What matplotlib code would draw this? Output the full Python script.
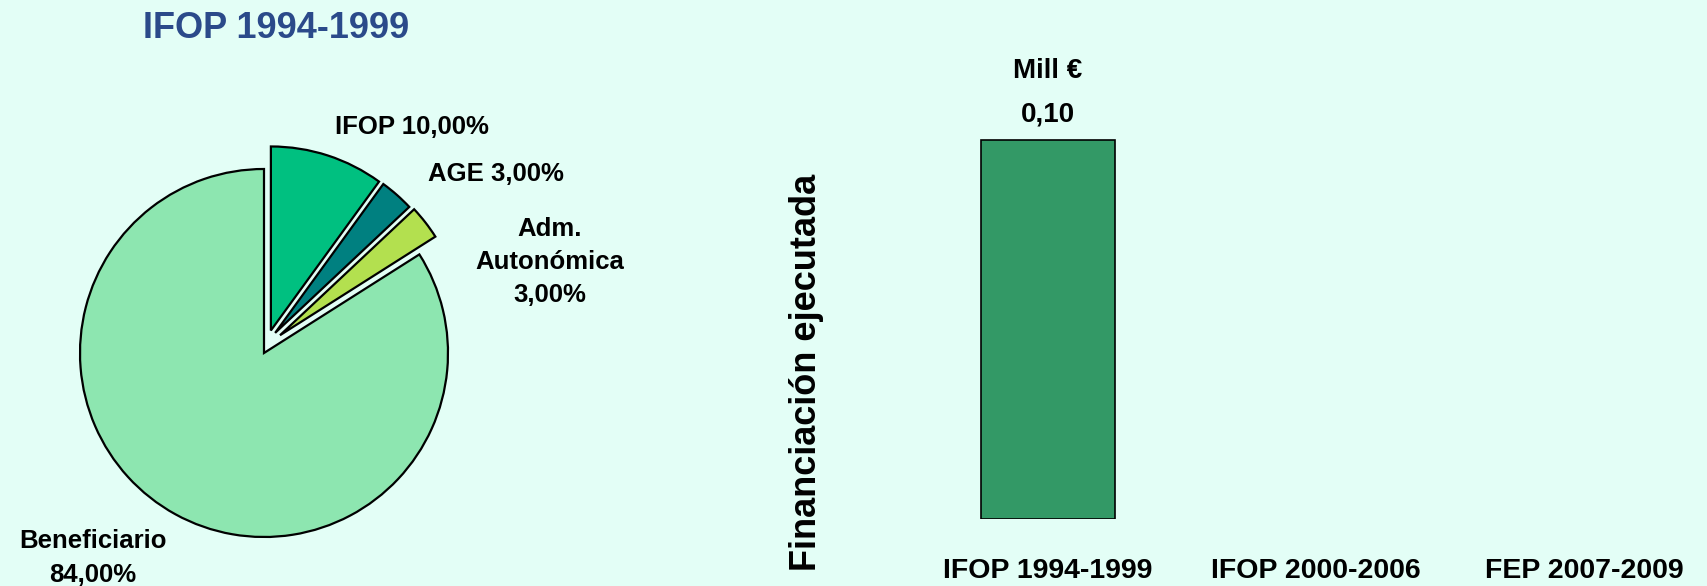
import math
import matplotlib
matplotlib.use("Agg")
import matplotlib.pyplot as plt

# ---- data ----
pie_labels = ["IFOP 10,00%", "AGE 3,00%", "Adm.\nAutonómica\n3,00%", "Beneficiario\n84,00%"]
pie_values = [10.0, 3.0, 3.0, 84.0]
pie_colors = ["#00C080", "#008080", "#B3E04F", "#8DE6B0"]
# explosion (distance in radii, direction in degrees) – styling
explode_dist = [0.128, 0.125, 0.13, 0.0]
explode_dir = [73, 61, 48, 0]

bar_categories = ["IFOP 1994-1999", "IFOP 2000-2006", "FEP 2007-2009"]
bar_values = [0.10, 0.0, 0.0]
bar_value_labels = ["0,10", "", ""]

title = "IFOP 1994-1999"
bar_unit = "Mill €"
bar_ylabel = "Financiación ejecutada"

BG = "#E3FEF6"
W, H = 1707, 586
plt.rcParams["font.family"] = ["Liberation Sans", "DejaVu Sans"]
plt.rcParams["font.weight"] = "bold"

fig = plt.figure(figsize=(W / 100, H / 100), dpi=100)
fig.patch.set_facecolor(BG)

# ---- pie ----
cx, cy, r = 264, 353, 184
span = 1.5
axp = fig.add_axes([(cx - span * r) / W, (H - cy - span * r) / H,
                    2 * span * r / W, 2 * span * r / H])
wedges, _ = axp.pie(pie_values, colors=pie_colors,
                    startangle=90, counterclock=False, radius=1.0,
                    wedgeprops=dict(edgecolor="black", linewidth=1.6))
for w, d, a in zip(wedges, explode_dist, explode_dir):
    if d:
        w.set_center((d * math.cos(math.radians(a)), d * math.sin(math.radians(a))))
axp.set_xlim(-span, span)
axp.set_ylim(-span, span)
axp.set_aspect("equal")
axp.axis("off")

def px(x, y):
    return (x / W, 1 - y / H)

label_pos = [(412, 127), (496, 174), (550, 262), (93, 558)]
for lab, (x, y) in zip(pie_labels, label_pos):
    fig.text(*px(x, y), lab, ha="center", va="center", fontsize=18.5,
             fontweight="bold", color="black", linespacing=1.5)

fig.text(*px(276, 28), title, ha="center", va="center", fontsize=26,
         fontweight="bold", color="#2B4A8A")

# ---- bar chart ----
bx0, step = 1048, 268
x_left = bx0 - 0.5 * step
x_right = bx0 + 2.5 * step
y_bottom, y_top_val = 519, 140
ymax = 0.12
height_px = (y_bottom - y_top_val) * ymax / bar_values[0]
axb = fig.add_axes([x_left / W, (H - y_bottom) / H, (x_right - x_left) / W, height_px / H])
axb.set_facecolor("none")
xs = list(range(len(bar_categories)))
bars = axb.bar(xs, bar_values, width=0.5, color="#339966", edgecolor="black", linewidth=1.2)
for b, v in zip(bars, bar_values):
    if v == 0:
        b.set_linewidth(0)
axb.set_xlim(-0.5, 2.5)
axb.set_ylim(0, ymax)
for s in axb.spines.values():
    s.set_visible(False)
axb.set_yticks([])
axb.set_xticks(xs)
axb.set_xticklabels(bar_categories, fontsize=20.5, fontweight="bold")
axb.tick_params(axis="x", length=0, pad=28)

for xi, v, lab in zip(xs, bar_values, bar_value_labels):
    if lab:
        axb.annotate(lab, (xi, v), xytext=(0, 18), textcoords="offset points",
                     ha="center", va="center", fontsize=20, fontweight="bold")
        axb.annotate(bar_unit, (xi, v), xytext=(0, 50), textcoords="offset points",
                     ha="center", va="center", fontsize=20, fontweight="bold")

fig.text(*px(807, 372), bar_ylabel, rotation=90, ha="center", va="center",
         fontsize=26, fontweight="bold")

fig.savefig("out.png", dpi=100, facecolor=BG)
